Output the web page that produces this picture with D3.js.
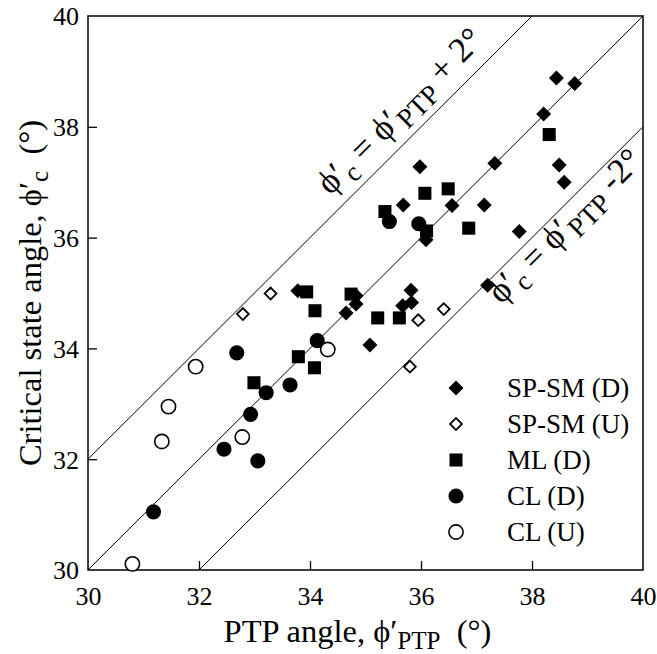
<!DOCTYPE html>
<html>
<head>
<meta charset="utf-8">
<script src="https://cdn.jsdelivr.net/npm/d3@7"></script>
<style>
  html, body { margin: 0; padding: 0; background: #fff; }
  text { font-family: "Liberation Serif", "Times New Roman", serif; fill: #000; }
</style>
</head>
<body>
<svg id="chart" width="657" height="654"></svg>
<script>
// ---- data (PTP angle, critical state angle) ----
const spsmD_x = [38.44, 38.77, 38.21, 37.33, 38.49, 38.58, 35.98, 35.68, 36.56, 37.14, 37.77, 36.09, 37.20, 33.78, 34.83, 34.83, 34.65, 35.82, 35.83, 35.67, 35.08];
const spsmD_y = [38.88, 38.78, 38.23, 37.34, 37.31, 37.00, 37.28, 36.59, 36.58, 36.59, 36.11, 35.96, 35.14, 35.04, 34.95, 34.80, 34.64, 35.05, 34.83, 34.77, 34.06];
const spsmU_x = [33.29, 32.79, 35.95, 36.41, 35.80];
const spsmU_y = [34.99, 34.62, 34.51, 34.71, 33.67];
const mlD_x = [38.31, 36.07, 36.49, 35.35, 36.86, 36.10, 33.94, 34.09, 34.74, 35.22, 35.61, 33.79, 34.08, 32.99];
const mlD_y = [37.86, 36.80, 36.88, 36.47, 36.17, 36.12, 35.02, 34.68, 34.98, 34.55, 34.55, 33.85, 33.65, 33.38];
const clD_x = [35.43, 35.96, 34.13, 32.68, 33.64, 33.21, 32.93, 32.45, 33.06, 31.18];
const clD_y = [36.29, 36.25, 34.14, 33.92, 33.34, 33.20, 32.81, 32.18, 31.97, 31.05];
const clU_x = [34.32, 31.94, 31.45, 31.33, 32.78, 30.80];
const clU_y = [33.98, 33.67, 32.95, 32.32, 32.40, 30.11];

const seriesNames = ["SP-SM (D)", "SP-SM (U)", "ML (D)", "CL (D)", "CL (U)"];
const xTicks = [30, 32, 34, 36, 38, 40];
const yTicks = [30, 32, 34, 36, 38, 40];
const lineOffsets = [2, 0, -2];

// ---- layout ----
const W = 657, H = 654;
const L = 88, R = 643, T = 16, B = 570;
const PHI = "\u03d5";
const svg = d3.select("#chart");
const x = d3.scaleLinear().domain([30, 40]).range([L, R]);
const y = d3.scaleLinear().domain([30, 40]).range([B, T]);

const series = [
  {name: seriesNames[0], xs: spsmD_x, ys: spsmD_y, type: "diamond", fill: true},
  {name: seriesNames[1], xs: spsmU_x, ys: spsmU_y, type: "diamond", fill: false},
  {name: seriesNames[2], xs: mlD_x, ys: mlD_y, type: "square", fill: true},
  {name: seriesNames[3], xs: clD_x, ys: clD_y, type: "circle", fill: true},
  {name: seriesNames[4], xs: clU_x, ys: clU_y, type: "circle", fill: false}
];

function markerPath(s) {
  if (s.type === "diamond") return d3.symbol().type(d3.symbolSquare).size(s.fill ? 112 : 70)();
  if (s.type === "square") return d3.symbol().type(d3.symbolSquare).size(170)();
  return d3.symbol().type(d3.symbolCircle).size(s.fill ? 180 : 160)();
}
function markerTransform(s, px, py) {
  return `translate(${px},${py})` + (s.type === "diamond" ? " rotate(45)" : "");
}

// ---- reference lines ----
const clipId = "plotclip";
svg.append("clipPath").attr("id", clipId).append("rect")
  .attr("x", L).attr("y", T).attr("width", R - L).attr("height", B - T);
const lg = svg.append("g").attr("clip-path", `url(#${clipId})`);
lineOffsets.forEach(off => {
  lg.append("line")
    .attr("x1", x(30)).attr("y1", y(30 + off))
    .attr("x2", x(40)).attr("y2", y(40 + off))
    .attr("stroke", "#000").attr("stroke-width", 1);
});

// ---- axes ----
const xAxis = d3.axisBottom(x).tickValues(xTicks).tickSizeInner(-9).tickSizeOuter(0);
const yAxis = d3.axisLeft(y).tickValues(yTicks).tickSizeInner(-9).tickSizeOuter(0);
const gx = svg.append("g").attr("transform", `translate(0,${B})`).call(xAxis);
const gy = svg.append("g").attr("transform", `translate(${L},0)`).call(yAxis);
[gx, gy].forEach(g => {
  g.select(".domain").remove();
  g.selectAll(".tick line").attr("stroke", "#000").attr("stroke-width", 1.3);
  g.selectAll(".tick text").style("font-size", "26px").style("font-family", "Liberation Serif");
});
gx.selectAll(".tick text").attr("dy", null).attr("y", 35);
gy.selectAll(".tick text").attr("x", -9).attr("dy", "0.34em");
gx.selectAll(".tick line").filter(d => d === 30 || d === 40).remove();
gy.selectAll(".tick line").filter(d => d === 30 || d === 40).remove();

// frame
svg.append("rect").attr("x", L).attr("y", T).attr("width", R - L).attr("height", B - T)
  .attr("fill", "none").attr("stroke", "#000").attr("stroke-width", 1.5);

// ---- points ----
series.forEach(s => {
  const pts = s.xs.map((v, i) => [v, s.ys[i]]);
  svg.append("g").selectAll("path").data(pts).join("path")
    .attr("d", markerPath(s))
    .attr("transform", d => markerTransform(s, x(d[0]), y(d[1])))
    .attr("fill", s.fill ? "#000" : "#fff")
    .attr("stroke", "#000")
    .attr("stroke-width", s.fill ? 0 : (s.type === "circle" ? 1.6 : 1.8));
});

// ---- legend ----
const legX = 456, legY0 = 388, legDy = 36;
series.forEach((s, i) => {
  const ly = legY0 + i * legDy;
  svg.append("path").attr("d", markerPath(s))
    .attr("transform", markerTransform(s, legX, ly))
    .attr("fill", s.fill ? "#000" : "#fff").attr("stroke", "#000")
    .attr("stroke-width", s.fill ? 0 : (s.type === "circle" ? 1.6 : 1.8));
  svg.append("text").attr("x", 507).attr("y", ly).attr("dy", "0.35em")
    .style("font-size", "27px").text(s.name);
});

// ---- line annotations ----
const angle = Math.atan2(y(40) - y(30), x(40) - x(30)) * 180 / Math.PI;
function annot(ax, off, baseOffset, tail) {
  const g = svg.append("g")
    .attr("transform", `translate(${x(ax)},${y(ax + off)}) rotate(${angle})`);
  const t = g.append("text").attr("x", 0).attr("y", baseOffset)
    .attr("text-anchor", "middle").style("font-size", "35px");
  t.append("tspan").text(PHI + "\u2032");
  t.append("tspan").attr("dy", 8).style("font-size", "27px").text("c");
  t.append("tspan").attr("dy", -8).text(" = " + PHI + "\u2032");
  t.append("tspan").attr("dy", 8).style("font-size", "28px").text("PTP");
  t.append("tspan").attr("dy", -8).text(tail);
}
annot(35.95, 2, -15, " + 2\u00b0");
annot(38.4, -2, 26, " -2\u00b0");

// ---- axis titles ----
const xt = svg.append("text").attr("x", (L + R) / 2 - 8).attr("y", 642)
  .attr("text-anchor", "middle").style("font-size", "32.5px");
xt.append("tspan").text("PTP angle, " + PHI + "\u2032");
xt.append("tspan").attr("dy", 7).style("font-size", "25px").text("PTP");
xt.append("tspan").attr("dy", -7).text("\u00a0\u00a0(\u00b0)");

const yt = svg.append("text").attr("transform", `translate(41,${(T + B) / 2}) rotate(-90)`)
  .attr("text-anchor", "middle").style("font-size", "32.5px");
yt.append("tspan").text("Critical state angle, " + PHI + "\u2032");
yt.append("tspan").attr("dy", 7).style("font-size", "25px").text("c");
yt.append("tspan").attr("dy", -7).text("\u00a0\u00a0(\u00b0)");
</script>
</body>
</html>
